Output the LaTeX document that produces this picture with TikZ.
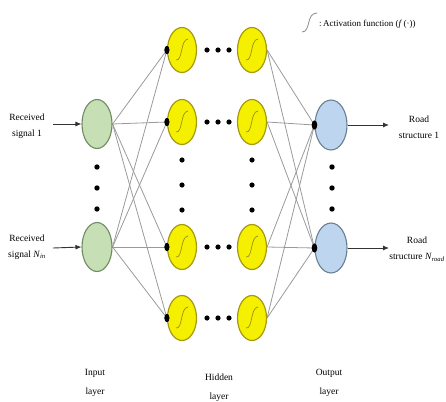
\documentclass[tikz,border=0pt]{standalone}
\usepackage{fontspec}
\setmainfont{Liberation Serif}
\usetikzlibrary{shapes.geometric,arrows.meta,backgrounds}

\definecolor{ingreen}{HTML}{C6DFB5}
\definecolor{inedge}{HTML}{6F8A62}
\definecolor{hidyel}{HTML}{F4F000}
\definecolor{hidedge}{HTML}{A89A10}
\definecolor{outblue}{HTML}{BDD5EE}
\definecolor{outedge}{HTML}{6B7F93}
\definecolor{linkgray}{HTML}{9A9A9A}
\definecolor{sigcol}{HTML}{9A9018}
\definecolor{legcol}{HTML}{8A8A8A}

\begin{document}
\begin{tikzpicture}[x=1pt,y=-1pt,
  innode/.style={ellipse, draw=inedge, fill=ingreen, line width=1.1pt,
                 minimum width=30pt, minimum height=49pt, inner sep=0pt},
  hidnode/.style={ellipse, draw=hidedge, fill=hidyel, line width=1.2pt,
                  minimum width=29pt, minimum height=45pt, inner sep=0pt},
  outnode/.style={ellipse, draw=outedge, fill=outblue, line width=1.1pt,
                  minimum width=32pt, minimum height=50pt, inner sep=0pt},
  link/.style={draw=linkgray, line width=0.8pt},
  sigarrow/.style={draw=black!80, line width=0.9pt, -{Latex[length=6pt,width=5pt]}},
  bigdot/.style={fill=black},
  lbl/.style={font=\fontsize{9.5}{16.5}\selectfont, align=center, inner sep=0pt},
  laylbl/.style={font=\fontsize{9.5}{19}\selectfont, align=center, inner sep=0pt},
  sigmoid/.pic={\draw[sigcol, line width=0.7pt]
     (-6,10) .. controls (1,11) and (-2,-10) .. (6,-11);}
]
\useasboundingbox (0,0) rectangle (446,401);

% input layer
\node[innode] (in1) at (97,124) {};
\node[innode] (in2) at (97,247) {};

% hidden layer, two visible columns of four neurons
\foreach \j/\y in {1/50,2/122,3/247,4/318}{
  \node[hidnode] (ha\j) at (182,\y) {};
  \node[hidnode] (hb\j) at (252,\y) {};
  \pic at (ha\j) {sigmoid};
  \pic at (hb\j) {sigmoid};
  \foreach \x in {207,218,229}
    \fill[bigdot] (\x,\y) circle (2.6);
}

% output layer
\node[outnode] (out1) at (331,125) {};
\node[outnode] (out2) at (331,248) {};

% vertical ellipses
\foreach \y in {167,188,209}{
  \fill[bigdot] (97,\y) circle (2.7);
  \fill[bigdot] (332,\y) circle (2.7);
}
\foreach \y in {160,185,210}{
  \fill[bigdot] (182,\y) circle (2.6);
  \fill[bigdot] (252,\y) circle (2.6);
}

% fully connected links, kept behind the neurons
\begin{pgfonlayer}{background}
\foreach \i in {1,2}
  \foreach \j in {1,...,4}{
    \draw[link] (in\i.east) -- (ha\j.west);
    \draw[link] (hb\j.east) -- (out\i.west);
  }
\end{pgfonlayer}

% input ports on receiving neurons
\foreach \j in {1,...,4}
  \fill (ha\j.west) ellipse (2.6 and 4.2);
\foreach \i in {1,2}
  \fill (out\i.west) ellipse (2.8 and 4.6);

% signals in and out
\coordinate (rx1) at (53,124);
\coordinate (rx2) at (53,248);
\coordinate (tx1) at (389,125);
\coordinate (tx2) at (389,248);
\draw[sigarrow] (rx1) -- (in1.west);
\draw[sigarrow] (rx2) -- (in2.west);
\draw[sigarrow] (out1.east) -- (tx1);
\draw[sigarrow] (out2.east) -- (tx2);

\node[lbl] (lin1) at (27,126) {Received\\signal 1};
\node[lbl] (lin2) at (27,247) {Received\\signal \textit{N}\textsubscript{\textit{in}}};
\node[lbl] (lout1) at (419,127) {Road\\structure 1};
\node[lbl] (lout2) at (417,249) {Road\\structure \textit{N}\textsubscript{\textit{road}}};

% layer names
\node[laylbl] (lay1) at (95,383) {Input\\layer};
\node[laylbl] (lay2) at (219,388) {Hidden\\layer};
\node[laylbl] (lay3) at (329,383) {Output\\layer};

% legend
\draw[legcol, line width=0.8pt] (302,32) .. controls (311,32) and (306,13) .. (317,13);
\node[font=\fontsize{9}{11}\selectfont, anchor=west, inner sep=0pt] (legtxt) at (319,24)
  {:\,Activation function (\textit{f}\,(·))};
\end{tikzpicture}
\end{document}
